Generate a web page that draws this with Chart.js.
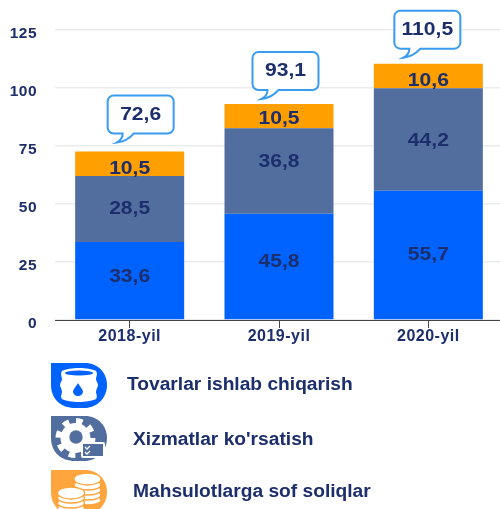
<!DOCTYPE html>
<html><head><meta charset="utf-8">
<script src="https://cdn.jsdelivr.net/npm/chart.js@4"></script>
<style>
html,body{margin:0;padding:0;background:#fff;overflow:hidden}
#wrap{position:relative;width:500px;height:509px;overflow:hidden;font-family:"Liberation Sans",Arial,sans-serif;filter:blur(0.4px)}
canvas{position:absolute;left:0;top:0}
.lg{position:absolute;font-weight:bold;font-size:18px;color:#1c2e6b;white-space:nowrap;line-height:20px;transform:scaleX(1.066);transform-origin:left center}
svg{position:absolute}
</style></head><body>
<div id="wrap">
<canvas id="c" width="503" height="352"></canvas>

<svg style="left:51px;top:363px" width="57" height="46" viewBox="0 0 57 46">
<path d="M0 0H34C47 0 56 10 56 22C56 35 46 45 33 45H24C10 45 0 36 0 22Z" fill="#0062ff"/>
<path d="M11 8C18 4 38 4 45 8C47 11 45 14 45 16C45 18 47 20 47 22C47 24 45 26 45 29C45 31 47 33 45 36C37 40 18 40 11 36C9 33 11 31 11 29C11 26 9 24 9 22C9 20 11 18 11 16C11 14 9 11 11 8Z" fill="#fff"/>
<ellipse cx="28" cy="10" rx="14" ry="2.500" fill="#0062ff"/>
<path d="M27 20C30 25 32 27 32 28.500A5 4.500 0 0 1 22 28.500C22 27 24 25 27 20Z" fill="#0062ff"/>
</svg>

<svg style="left:51px;top:416px" width="57" height="46" viewBox="0 0 57 46">
<path d="M0 0H34C47 0 56 10 56 22C56 35 46 45 33 45H24C10 45 0 36 0 22Z" fill="#516e9e"/>
<circle cx="24.500" cy="22" r="15" fill="#fff"/>
<circle cx="24.500" cy="22" r="17" fill="none" stroke="#fff" stroke-width="6" stroke-dasharray="6.500 6.850"/>
<circle cx="25" cy="21" r="6.700" fill="#516e9e"/>
<rect x="30" y="26" width="24" height="16" rx="2" fill="#fff"/>
<rect x="32" y="28" width="20" height="12" fill="#516e9e"/>
<path d="M34 31l2 2 3-3M34 36l2 2 3-3" stroke="#fff" stroke-width="1.300" fill="none"/>
</svg>

<svg style="left:51px;top:470px" width="57" height="39" viewBox="0 0 57 39">
<path d="M0 0H34C47 0 56 10 56 22C56 35 46 45 33 45H24C10 45 0 36 0 22Z" fill="#ffa53d"/>
<g fill="#fff" stroke="#ffa53d" stroke-width="1.300">
<ellipse cx="36.500" cy="30" rx="13.500" ry="5"/><ellipse cx="36.500" cy="25" rx="13.500" ry="5"/><ellipse cx="36.500" cy="20" rx="13.500" ry="5"/><ellipse cx="36.500" cy="15" rx="13.500" ry="5"/><ellipse cx="36.500" cy="9" rx="13.500" ry="6"/>
<ellipse cx="20" cy="38" rx="13.500" ry="5"/><ellipse cx="20" cy="33" rx="13.500" ry="5"/><ellipse cx="20" cy="28" rx="13.500" ry="5"/><ellipse cx="20" cy="23" rx="13.500" ry="6"/>
</g>
</svg>

<div class="lg" style="left:127px;top:374px">Tovarlar ishlab chiqarish</div>
<div class="lg" style="left:133px;top:429px">Xizmatlar ko'rsatish</div>
<div class="lg" style="left:133px;top:481px">Mahsulotlarga sof soliqlar</div>
</div>
<script>
const categories = ["2018-yil", "2019-yil", "2020-yil"];
const goods = [33.6, 45.8, 55.7];
const services = [28.5, 36.8, 44.2];
const taxes = [10.5, 10.5, 10.6];
const totals = [72.6, 93.1, 110.5];
const yTicks = [0, 25, 50, 75, 100, 125];

const INK = "#1c2e6b";
const labelShift = [[-4, 0, 5], [-5, -9, 3], [0, 1, 5]];
const calloutShiftX = [-22, -26.5, -34];
const calloutGap = [18, 14, 15];
const fmt = v => v.toFixed(1).replace(".", ",");

function stretched(ctx, text, x, y) {
  ctx.save();
  ctx.translate(x, y);
  ctx.scale(1.14, 1);
  ctx.fillText(text, 0, 0);
  ctx.restore();
}

const labelsPlugin = {
  id: "labels",
  beforeDraw(chart) { chart.ctx.letterSpacing = "0.5px"; },
  afterDatasetsDraw(chart) {
    const ctx = chart.ctx, y = chart.scales.y;
    ctx.save();
    ctx.letterSpacing = "0px";
    ctx.textAlign = "center"; ctx.textBaseline = "middle";
    ctx.fillStyle = INK;
    ctx.font = 'bold 18.5px "Liberation Sans", Arial, sans-serif';
    chart.data.datasets.forEach((ds, d) => {
      chart.getDatasetMeta(d).data.forEach((bar, i) => {
        const mid = (bar.y + bar.base) / 2 + labelShift[i][d];
        stretched(ctx, fmt(ds.data[i]), bar.x, mid);
      });
    });
    // total callouts
    const w = 66, h = 38, r = 6;
    totals.forEach((t, i) => {
      const cx = chart.getDatasetMeta(0).data[i].x;
      const top = y.getPixelForValue(t);
      const x0 = cx + calloutShiftX[i], y1 = top - calloutGap[i], y0 = y1 - h, x1 = x0 + w;
      ctx.beginPath();
      ctx.moveTo(x0 + r, y0);
      ctx.arcTo(x1, y0, x1, y1, r);
      ctx.arcTo(x1, y1, x0, y1, r);
      ctx.lineTo(x0 + 26, y1);
      ctx.quadraticCurveTo(x0 + 19, y1 + 8, x0 + 9, y1 + 9);
      ctx.quadraticCurveTo(x0 + 15, y1 + 6, x0 + 15, y1);
      ctx.arcTo(x0, y1, x0, y0, r);
      ctx.arcTo(x0, y0, x1, y0, r);
      ctx.closePath();
      ctx.fillStyle = "#fff"; ctx.fill();
      ctx.strokeStyle = "#3a9cf0"; ctx.lineWidth = 2; ctx.stroke();
      ctx.fillStyle = INK;
      stretched(ctx, fmt(t), x0 + w / 2, y0 + h / 2);
    });
    ctx.restore();
  }
};

new Chart(document.getElementById("c"), {
  type: "bar",
  data: {
    labels: categories,
    datasets: [
      { label: "Tovarlar ishlab chiqarish", data: goods, backgroundColor: "#0062ff" },
      { label: "Xizmatlar ko'rsatish", data: services, backgroundColor: "#516e9e" },
      { label: "Mahsulotlarga sof soliqlar", data: taxes, backgroundColor: "#ff9f00" }
    ]
  },
  options: {
    responsive: false,
    animation: false,
    events: [],
    layout: { padding: { top: 30, right: 0, bottom: 0, left: 0 } },
    barPercentage: 0.73,
    categoryPercentage: 1,
    plugins: { legend: { display: false }, tooltip: { enabled: false } },
    scales: {
      x: {
        stacked: true,
        afterFit(s) { s.height = 32; },
        grid: { offset: false, drawOnChartArea: false, drawTicks: true, tickLength: 8, color: "#444", lineWidth: 1 },
        border: { display: true, color: "#444", width: 1 },
        ticks: { color: INK, padding: -1, maxRotation: 0, font: { family: '"Liberation Sans", Arial, sans-serif', weight: "bold", size: 16 } }
      },
      y: {
        stacked: true, min: 0, max: 125,
        afterFit(s) { s.width = 55; },
        afterBuildTicks(s) { s.ticks = yTicks.map(v => ({ value: v })); },
        grid: { color: "#ececec", lineWidth: 1.5, drawTicks: false },
        border: { display: false },
        ticks: {
          color: INK, padding: 18,
          callback: v => ["", String(v)],
          font: { family: '"Liberation Sans", Arial, sans-serif', weight: "bold", size: 15.5, lineHeight: "7px" }
        }
      }
    }
  },
  plugins: [labelsPlugin]
});
</script>
</body></html>
